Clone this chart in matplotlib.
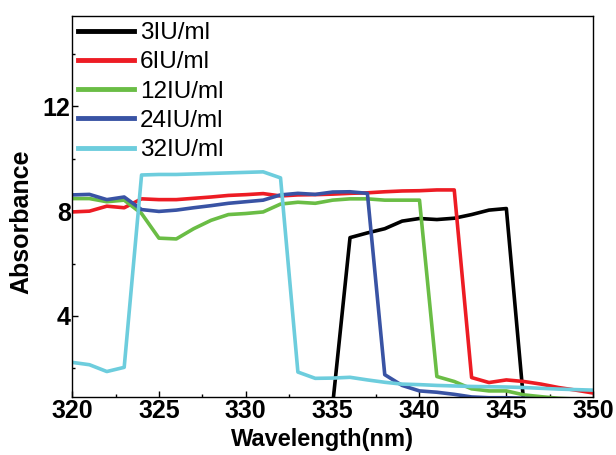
import numpy as np
import matplotlib
matplotlib.use("Agg")
import matplotlib.pyplot as plt
from matplotlib.ticker import MultipleLocator

plt.rcParams["font.family"] = ["Liberation Sans", "DejaVu Sans"]

# wavelength grid (nm), 1 nm step
wavelength = np.arange(320, 351)

# absorbance (values below the axis floor are clipped there)
abs_3 = [0.6, 0.6, 0.6, 0.6, 0.6, 0.6, 0.6, 0.6, 0.6, 0.6, 0.6, 0.6, 0.6, 0.6, 0.6,
         0.6, 6.99, 7.17, 7.33, 7.62, 7.72, 7.68, 7.73, 7.87, 8.04, 8.10,
         0.7, 0.6, 0.6, 0.6, 0.6]
abs_6 = [7.97, 8.00, 8.19, 8.13, 8.47, 8.44, 8.44, 8.49, 8.54, 8.60, 8.63,
         8.67, 8.58, 8.62, 8.63, 8.65, 8.68, 8.70, 8.74, 8.77, 8.78, 8.81,
         8.81, 1.65, 1.46, 1.56, 1.50, 1.40, 1.27, 1.17, 1.06]
abs_12 = [8.48, 8.48, 8.36, 8.42, 7.91, 6.97, 6.94, 7.33, 7.65, 7.87, 7.91,
          7.97, 8.27, 8.34, 8.30, 8.42, 8.47, 8.47, 8.42, 8.42, 8.42, 1.69,
          1.50, 1.22, 1.14, 1.14, 0.99, 0.92, 0.86, 0.83, 0.80]
abs_24 = [8.62, 8.64, 8.44, 8.54, 8.06, 7.99, 8.04, 8.13, 8.21, 8.30, 8.36,
          8.42, 8.62, 8.68, 8.64, 8.73, 8.74, 8.68, 1.76, 1.35, 1.14, 1.09,
          1.01, 0.91, 0.88, 0.88, 0.86, 0.83, 0.83, 0.83, 0.83]
abs_32 = [2.23, 2.14, 1.88, 2.04, 9.38, 9.40, 9.40, 9.42, 9.44, 9.46, 9.48,
          9.50, 9.27, 1.86, 1.62, 1.63, 1.66, 1.56, 1.47, 1.40, 1.38, 1.35,
          1.33, 1.31, 1.30, 1.29, 1.27, 1.24, 1.21, 1.19, 1.17]

labels = ["3IU/ml", "6IU/ml", "12IU/ml", "24IU/ml", "32IU/ml"]
colors = ["#000000", "#ED1C24", "#6ABD45", "#3953A4", "#6DCDDD"]
series = [abs_3, abs_6, abs_12, abs_24, abs_32]

fig = plt.figure(figsize=(6.16, 4.55), dpi=100)
ax = fig.add_axes([0.117, 0.127, 0.846, 0.838])

for y, c, lab in zip(series, colors, labels):
    ax.plot(wavelength, y, "-", color=c, lw=2.6, label=lab)

ax.set_xlim(320, 350)
ax.set_ylim(0.9, 15.45)
ax.set_xticks(np.arange(320, 351, 5))
ax.set_yticks([4, 8, 12])
ax.xaxis.set_minor_locator(MultipleLocator(2.5))
ax.yaxis.set_minor_locator(MultipleLocator(2))
ax.tick_params(which="both", direction="in", top=False, right=False)
ax.tick_params(which="major", length=4, width=1, labelsize=18, pad=1)
ax.tick_params(which="minor", length=2.5, width=1)
for t in ax.get_xticklabels() + ax.get_yticklabels():
    t.set_fontweight("bold")
for s in ax.spines.values():
    s.set_linewidth(1)

ax.set_xlabel("Wavelength(nm)", fontsize=17, fontweight="bold")
ax.set_ylabel("Absorbance", fontsize=18, fontweight="bold")
ax.xaxis.set_label_coords(0.48, -0.08)
ax.yaxis.set_label_coords(-0.075, 0.46)

leg = ax.legend(loc="upper left", frameon=False, fontsize=17.5,
                handlelength=2.3, handletextpad=0.25, labelspacing=0.3,
                borderaxespad=0.05, borderpad=0.2)
for h in leg.get_lines():
    h.set_linewidth(3.5)

fig.savefig("out.png", dpi=100)
